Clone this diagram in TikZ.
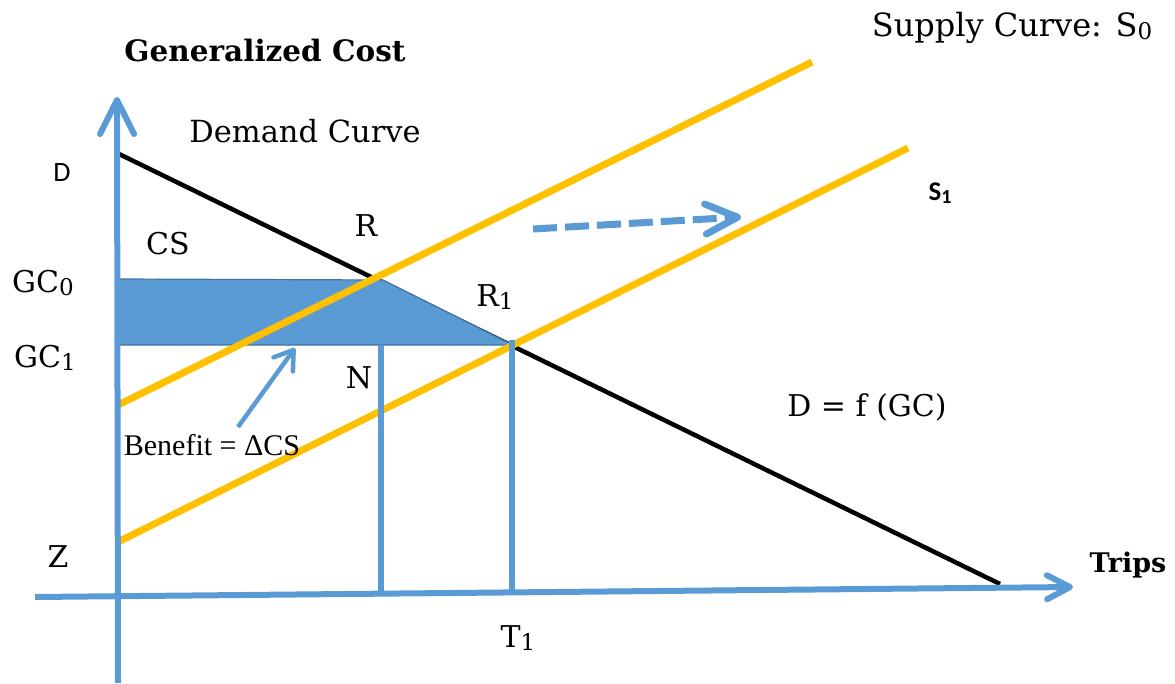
\documentclass[tikz,border=0pt]{standalone}
\usepackage{fontspec}
\setmainfont{DejaVu Serif}
\newfontfamily\lsans{Carlito}
\newfontfamily\tms{Liberation Serif}
\usetikzlibrary{arrows.meta}
\definecolor{axblue}{HTML}{5B9BD5}
\definecolor{areablue}{HTML}{5B9BD5}
\definecolor{edgeblue}{HTML}{41719C}
\definecolor{supply}{HTML}{FFC000}
\newcommand{\mysub}[1]{\raisebox{-2.5pt}{\fontsize{23}{24}\selectfont #1}}
\newcommand{\mysubs}[1]{\raisebox{-2.5pt}{\fontsize{20}{22}\selectfont #1}}
\begin{document}
\begin{tikzpicture}[x=1pt,y=-1pt,
  lbl/.style={font=\fontsize{30}{36}\selectfont, inner sep=0pt},
  boldlbl/.style={font=\fontsize{29.5}{34}\selectfont\bfseries, inner sep=0pt},
  sanslbl/.style={font=\fontsize{28}{32}\selectfont\lsans, inner sep=0pt},
  axis/.style={draw=axblue, line width=6pt},
  supplyline/.style={draw=supply, line width=7pt},
  demandline/.style={draw=black, line width=4.5pt},
  dropline/.style={draw=axblue, line width=6pt},
]
\useasboundingbox (0,0) rectangle (1175,683);

% key points
\coordinate (yb) at (118,683);
\coordinate (yt) at (117,97);
\coordinate (xl) at (35,597);
\coordinate (xr) at (1073,587);
\coordinate (dA) at (115,152);
\coordinate (dB) at (1000,584);
\coordinate (s0a) at (118,405);
\coordinate (s0b) at (812,62);
\coordinate (s1a) at (118,542);
\coordinate (s1b) at (908,148);
\coordinate (aTL) at (118,279);
\coordinate (R) at (383,280);
\coordinate (R1) at (513,345);
\coordinate (aBL) at (118,345);
\coordinate (Nt) at (381,345);
\coordinate (Nb) at (381,592);
\coordinate (Tt) at (512,340);
\coordinate (Tb) at (512,590);
\coordinate (sa) at (533,229);
\coordinate (sb) at (741,217);
\coordinate (ba) at (238,427);
\coordinate (bb) at (295,348);

% demand curve
\draw[demandline] (dA) -- (dB);
% shaded benefit area
\filldraw[fill=areablue, draw=edgeblue, line width=1.2pt] (aTL) -- (R) -- (R1) -- (aBL) -- cycle;
% supply curves
\draw[supplyline] (s0a) -- (s0b);
\draw[supplyline] (s1a) -- (s1b);
% drop lines
\draw[dropline] (Nt) -- (Nb);
\draw[dropline] (Tt) -- (Tb);
% axes
\draw[axis, -{Straight Barb[length=34pt,width=34pt,round]}] (yb) -- (yt);
\draw[axis, -{Straight Barb[length=23pt,width=24pt,round]}] (xl) -- (xr);
% shift arrow
\draw[draw=axblue, line width=7pt, dash pattern=on 24pt off 8pt, -{Straight Barb[length=32pt,width=30pt,round]}] (sa) -- (sb);
% benefit arrow
\draw[draw=axblue, line width=4.5pt, -{Straight Barb[length=18pt,width=24pt,round]}] (ba) -- (bb);

% labels
\node[boldlbl] (tGC) at (265,50) {Generalized Cost};
\node[lbl, font=\fontsize{32}{36}\selectfont] (tSup) at (1012,28) {Supply Curve: S\mysub{0}};
\node[lbl, font=\fontsize{30.5}{36}\selectfont] (tDem) at (305,131) {Demand Curve};
\node[sanslbl] (tD) at (62,173) {D};
\node[sanslbl, font=\fontsize{27}{30}\selectfont\lsans\bfseries] (tS1) at (940,193) {S\mysubs{1}};
\node[lbl] (tCS) at (168,244) {CS};
\node[lbl] (tR) at (366,226) {R};
\node[lbl] (tGC0) at (43,283) {GC\mysub{0}};
\node[lbl] (tR1) at (495,297) {R\mysub{1}};
\node[lbl] (tGC1) at (45,358) {GC\mysub{1}};
\node[lbl] (tN) at (359,378) {N};
\node[inner sep=0pt, font=\fontsize{30}{34}\selectfont\tms] (tBen) at (212,445) {Benefit = ΔCS};
\node[lbl] (tDf) at (867,407) {D = f (GC)};
\node[lbl] (tZ) at (58,557) {Z};
\node[boldlbl, font=\fontsize{27}{32}\selectfont\bfseries] (tTrips) at (1128,565) {Trips};
\node[lbl] (tT1) at (518,638) {T\mysub{1}};
\end{tikzpicture}
\end{document}
